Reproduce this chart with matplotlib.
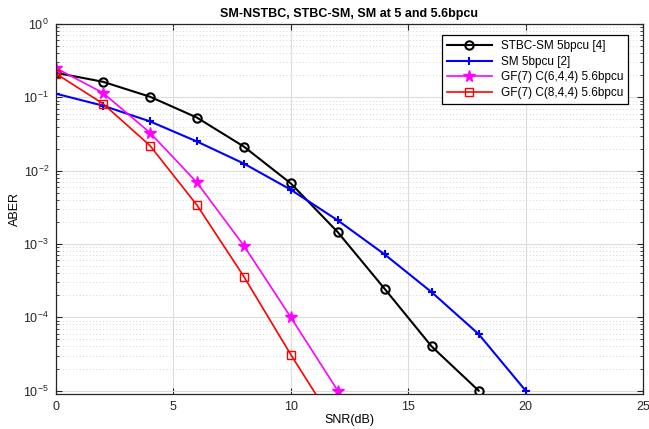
import numpy as np
import matplotlib
matplotlib.use('Agg')
import matplotlib.pyplot as plt
from matplotlib.ticker import LogLocator, FixedLocator, NullFormatter

plt.rcParams['font.family'] = ['Liberation Sans', 'DejaVu Sans']
plt.rcParams['mathtext.fontset'] = 'custom'
plt.rcParams['mathtext.rm'] = 'Liberation Sans'
plt.rcParams['mathtext.it'] = 'Liberation Sans'

# SNR grid and ABER curves
snr_stbc = [0, 2, 4, 6, 8, 10, 12, 14, 16, 18]
aber_stbc = [0.216, 0.163, 0.102, 0.053, 0.0213, 0.0067, 1.45e-3, 2.44e-4, 4.0e-5, 1.0e-5]

snr_sm = [0, 2, 4, 6, 8, 10, 12, 14, 16, 18, 20]
aber_sm = [0.112, 0.077, 0.047, 0.025, 0.0125, 5.5e-3, 2.1e-3, 7.2e-4, 2.2e-4, 5.9e-5, 1.0e-5]

snr_gf6 = [0, 2, 4, 6, 8, 10, 12]
aber_gf6 = [0.25, 0.115, 0.033, 6.9e-3, 9.5e-4, 1.0e-4, 1.0e-5]

snr_gf8 = [0, 2, 4, 6, 8, 10, 12]
aber_gf8 = [0.21, 0.082, 0.022, 3.4e-3, 3.6e-4, 3.1e-5, 3.0e-6]

labels = ['STBC-SM 5bpcu [4]', 'SM 5bpcu [2]',
          'GF(7) C(6,4,4) 5.6bpcu', 'GF(7) C(8,4,4) 5.6bpcu']

fig = plt.figure(figsize=(6.49, 4.29), dpi=100)
ax = fig.add_axes([56 / 649, 1 - 394 / 429, 587 / 649, 370 / 429])

ax.semilogy(snr_stbc, aber_stbc, '-o', color='black', lw=1.5, ms=6,
            mfc='none', mew=1.5, label=labels[0])
ax.semilogy(snr_sm, aber_sm, '-+', color='blue', lw=1.5, ms=5.5,
            mew=1.5, label=labels[1])
ax.semilogy(snr_gf6, aber_gf6, '-*', color='magenta', lw=1.2, ms=8.5,
            label=labels[2])
ax.semilogy(snr_gf8, aber_gf8, '-s', color='red', lw=1.2, ms=5.5,
            mfc='none', mew=1.0, label=labels[3])

ax.set_xlim(0, 25)
ax.set_ylim(9e-6, 1)
ax.xaxis.set_major_locator(FixedLocator([0, 5, 10, 15, 20, 25]))
ax.yaxis.set_major_locator(LogLocator(base=10, numticks=10))
ax.yaxis.set_minor_locator(LogLocator(base=10, subs=np.arange(2, 10), numticks=20))
ax.yaxis.set_minor_formatter(NullFormatter())

ax.grid(True, which='major', color='#dcdcdc', lw=0.8, ls='-')
ax.grid(True, which='minor', axis='y', color='#c8c8c8', lw=0.6, ls=(0, (1, 3)))
ax.set_axisbelow(True)

ax.tick_params(which='both', direction='in', top=True, right=True,
               labelsize=9, colors='#262626', length=4, pad=5)
ax.tick_params(which='minor', length=2.5)
for s in ax.spines.values():
    s.set_color('#262626')
    s.set_linewidth(0.9)

ax.set_xlabel('SNR(dB)', fontsize=9, labelpad=1)
ax.set_ylabel('ABER', fontsize=9, labelpad=2)
ax.set_title('SM-NSTBC, STBC-SM, SM at 5 and 5.6bpcu', fontsize=9,
             fontweight='bold', pad=5)

leg = ax.legend(loc='upper right', fontsize=8.5, handlelength=3.8,
                fancybox=False, framealpha=1, edgecolor='black',
                borderpad=0.4, labelspacing=0.3, bbox_to_anchor=(0.985, 0.985))
leg.get_frame().set_linewidth(0.9)

fig.savefig('out.png', dpi=100)
